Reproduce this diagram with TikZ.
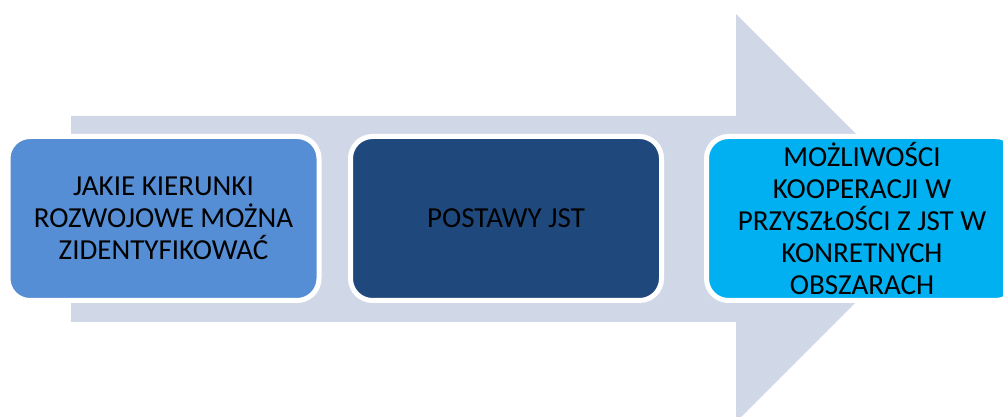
\documentclass[tikz,border=0pt]{standalone}
\usepackage{fontspec}
\setmainfont{Carlito}
\usetikzlibrary{positioning}
\definecolor{arrowgrey}{RGB}{208,216,232}
\definecolor{stageone}{RGB}{85,142,213}
\definecolor{stagetwo}{RGB}{31,73,125}
\definecolor{stagethree}{RGB}{0,176,240}
\begin{document}
\begin{tikzpicture}[
          x=1pt, y=1pt,
          node distance=26.5pt,
          stage/.style={draw=white, line width=5pt, rounded corners=22pt,
            minimum width=311pt, minimum height=164pt, inner sep=0pt,
            align=center, text=black, font=\fontsize{29}{32}\selectfont}
        ]
        \useasboundingbox (0,0) rectangle (1003,417);
        \clip (0,0) rectangle (1003,417);
        % big arrow behind the stages
        \fill[arrowgrey] (71,95) -- (736,95) -- (736,-5) -- (940,199)
          -- (736,403) -- (736,301) -- (71,301) -- cycle;
        \node[stage, fill=stageone] (kierunki) at (163.5,198.5)
          {JAKIE KIERUNKI\\ROZWOJOWE MOŻNA\\ZIDENTYFIKOWAĆ};
        \node[stage, fill=stagetwo, right=of kierunki] (postawy) {POSTAWY JST};
        \node[stage, fill=stagethree, right=40pt of postawy] (kooperacja)
          {MOŻLIWOŚCI\\KOOPERACJI W\\PRZYSZŁOŚCI Z JST W\\KONRETNYCH\\OBSZARACH};
        \end{tikzpicture}
\end{document}
